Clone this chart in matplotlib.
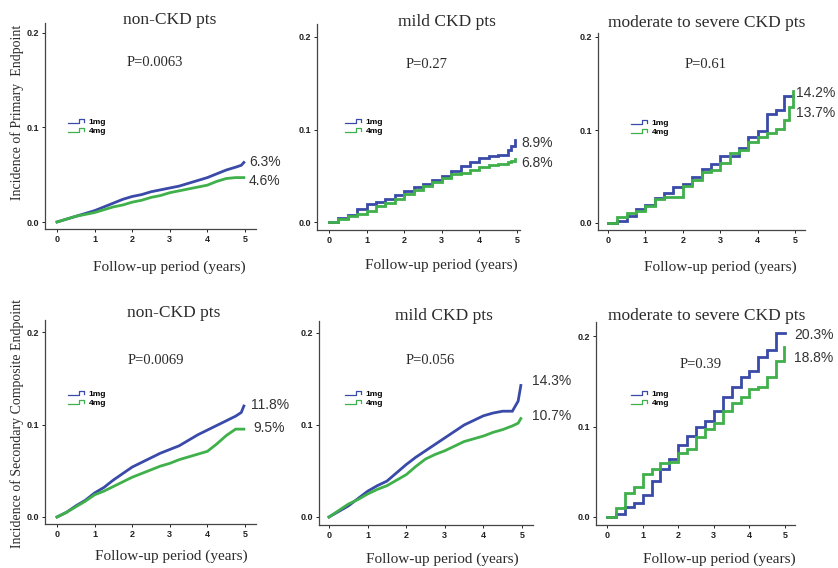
import matplotlib
matplotlib.use("Agg")
import matplotlib.pyplot as plt
from matplotlib.lines import Line2D
from matplotlib.legend_handler import HandlerBase

# ---------------- data ----------------
titles = ["non-CKD pts", "mild CKD pts", "moderate to severe CKD pts",
          "non-CKD pts", "mild CKD pts", "moderate to severe CKD pts"]
p_values = ["P=0.0063", "P=0.27", "P=0.61", "P=0.0069", "P=0.056", "P=0.39"]
end_labels_1mg = ["6.3%", "8.9%", "14.2%", "11.8%", "14.3%", "20.3%"]
end_labels_4mg = ["4.6%", "6.8%", "13.7%", "9.5%", "10.7%", "18.8%"]
series_names = ["1mg", "4mg"]
ylabels = ["Incidence of Primary  Endpoint", "Incidence of Secondary Composite Endpoint"]
xlabel = "Follow-up period (years)"
x_ticks = [0, 1, 2, 3, 4, 5]
y_ticks = [0.0, 0.1, 0.2]
y_ticklabels = ["0.0", "0.1", "0.2"]

# top-left: non-CKD, primary
tl_t = [0, 0.25, 0.5, 0.75, 1, 1.25, 1.5, 1.75, 2, 2.25, 2.5, 2.75, 3, 3.25, 3.5, 3.75, 4, 4.25, 4.5, 4.75, 4.9, 4.97]
tl_1mg = [0, 0.003, 0.006, 0.009, 0.012, 0.016, 0.020, 0.024, 0.027, 0.029, 0.032, 0.034, 0.036, 0.038, 0.041, 0.044, 0.047, 0.051, 0.055, 0.058, 0.060, 0.063]
tl_4mg = [0, 0.003, 0.006, 0.008, 0.010, 0.013, 0.016, 0.018, 0.021, 0.023, 0.026, 0.028, 0.031, 0.033, 0.035, 0.037, 0.039, 0.043, 0.046, 0.047, 0.047, 0.047]

# top-middle: mild CKD, primary
tm_t = [0, 0.25, 0.5, 0.75, 1, 1.25, 1.5, 1.75, 2, 2.25, 2.5, 2.75, 3, 3.25, 3.5, 3.75, 4, 4.25, 4.5, 4.75, 4.85, 4.95, 4.95]
tm_1mg = [0, 0.004, 0.008, 0.014, 0.019, 0.022, 0.025, 0.029, 0.034, 0.038, 0.041, 0.045, 0.050, 0.055, 0.061, 0.065, 0.069, 0.071, 0.072, 0.078, 0.082, 0.082, 0.089]
tm_4mg = [0, 0.003, 0.006, 0.009, 0.012, 0.017, 0.021, 0.025, 0.030, 0.035, 0.039, 0.043, 0.048, 0.052, 0.053, 0.056, 0.060, 0.062, 0.063, 0.065, 0.066, 0.066, 0.068]

# top-right: moderate-severe CKD, primary
tr_t1 = [0, 0.25, 0.5, 0.75, 1, 1.25, 1.5, 1.75, 2, 2.25, 2.5, 2.75, 3, 3.25, 3.5, 3.75, 4, 4.25, 4.5, 4.7, 4.95]
tr_1mg = [0, 0.002, 0.007, 0.015, 0.019, 0.027, 0.032, 0.039, 0.042, 0.049, 0.058, 0.063, 0.072, 0.072, 0.081, 0.092, 0.099, 0.117, 0.121, 0.137, 0.137]
tr_t4 = [0, 0.25, 0.5, 0.75, 1, 1.25, 1.5, 1.75, 2, 2.25, 2.5, 2.75, 3, 3.25, 3.5, 3.75, 4, 4.25, 4.5, 4.7, 4.85, 4.95, 4.95]
tr_4mg = [0, 0.006, 0.011, 0.013, 0.018, 0.026, 0.028, 0.028, 0.040, 0.046, 0.055, 0.057, 0.065, 0.075, 0.079, 0.087, 0.092, 0.097, 0.101, 0.111, 0.125, 0.125, 0.142]

# bottom-left: non-CKD, secondary
bl_t = [0, 0.25, 0.5, 0.75, 1, 1.25, 1.5, 1.75, 2, 2.25, 2.5, 2.75, 3, 3.25, 3.5, 3.75, 4, 4.25, 4.5, 4.75, 4.9, 4.97]
bl_1mg = [0, 0.005, 0.012, 0.018, 0.026, 0.032, 0.040, 0.047, 0.054, 0.059, 0.064, 0.069, 0.073, 0.077, 0.083, 0.089, 0.094, 0.099, 0.104, 0.109, 0.113, 0.120]
bl_4mg = [0, 0.005, 0.011, 0.017, 0.024, 0.028, 0.033, 0.038, 0.043, 0.047, 0.051, 0.055, 0.058, 0.062, 0.065, 0.068, 0.071, 0.079, 0.088, 0.095, 0.095, 0.095]

# bottom-middle: mild CKD, secondary
bm_t = [0, 0.25, 0.5, 0.75, 1, 1.25, 1.5, 1.75, 2, 2.25, 2.5, 2.75, 3, 3.25, 3.5, 3.75, 4, 4.25, 4.5, 4.75, 4.9, 4.97]
bm_1mg = [0, 0.006, 0.012, 0.020, 0.028, 0.034, 0.039, 0.048, 0.057, 0.065, 0.072, 0.079, 0.086, 0.093, 0.100, 0.105, 0.110, 0.113, 0.115, 0.115, 0.126, 0.143]
bm_4mg = [0, 0.007, 0.014, 0.019, 0.025, 0.030, 0.034, 0.040, 0.046, 0.055, 0.063, 0.068, 0.072, 0.077, 0.082, 0.085, 0.088, 0.092, 0.095, 0.099, 0.102, 0.107]

# bottom-right: moderate-severe CKD, secondary
br_t1 = [0, 0.25, 0.5, 0.75, 1, 1.25, 1.5, 1.75, 2, 2.25, 2.5, 2.75, 3, 3.25, 3.5, 3.75, 4, 4.25, 4.5, 4.75, 5.0]
br_1mg = [0, 0.003, 0.011, 0.016, 0.024, 0.040, 0.053, 0.064, 0.080, 0.089, 0.100, 0.106, 0.117, 0.133, 0.144, 0.155, 0.161, 0.177, 0.184, 0.203, 0.203]
br_t4 = [0, 0.25, 0.5, 0.75, 1, 1.25, 1.5, 1.75, 2, 2.25, 2.5, 2.75, 3, 3.25, 3.5, 3.75, 4, 4.25, 4.5, 4.75, 4.97, 4.97]
br_4mg = [0, 0.010, 0.026, 0.033, 0.047, 0.053, 0.060, 0.061, 0.071, 0.075, 0.088, 0.097, 0.104, 0.117, 0.126, 0.133, 0.141, 0.144, 0.155, 0.172, 0.172, 0.188]

curves = [
    ((tl_t, tl_1mg), (tl_t, tl_4mg)),
    ((tm_t, tm_1mg), (tm_t, tm_4mg)),
    ((tr_t1, tr_1mg), (tr_t4, tr_4mg)),
    ((bl_t, bl_1mg), (bl_t, bl_4mg)),
    ((bm_t, bm_1mg), (bm_t, bm_4mg)),
    ((br_t1, br_1mg), (br_t4, br_4mg)),
]

# ---------------- layout / style ----------------
W, H = 838, 568
BLUE = "#3a4aa8"
GREEN = "#3fb04a"
TXT = "#2b2b2b"
SERIF = ["Liberation Serif", "DejaVu Serif"]
SANS = ["Liberation Sans", "DejaVu Sans"]

# pixel geometry per panel: axes left,right,top,bottom ; px of x=0, x=5 ; px of y=0, y=0.2
geom = [
    (45, 256, 23, 229, 57, 245, 222, 33),
    (317, 520, 24, 230, 329, 517, 222, 37),
    (598, 805, 33, 230, 608, 795, 223, 37),
    (45, 256, 320, 524, 57, 245, 517, 332),
    (319, 533, 321, 525, 329, 522, 517, 333),
    (596, 795, 322, 525, 607, 785, 517, 336),
]
drawstyles = ["default", "steps-post", "steps-post", "default", "default", "steps-post"]
title_pos = [(170, 20), (447, 22), (707, 23), (174, 313), (444, 316), (707, 316)]
p_pos = [(155, 63), (427, 65), (706, 65), (156, 361), (430, 361), (701, 364)]
xlabel_pos = [(169, 267), (441, 265), (720, 267), (171, 556), (442, 559), (719, 559)]
lbl1_pos = [(249, 162), (521, 143), (796, 93), (251, 405), (532, 381), (794, 335)]
lbl4_pos = [(249, 181), (521, 163), (796, 113), (253, 428), (532, 416), (794, 358)]
legend_pos = [(68, 118), (345, 118), (631, 119), (68, 390), (345, 390), (631, 390)]
ylabel_pos = [(17, 112), (17, 424)]


def fx(px):
    return px / W


def fy(py):
    return 1 - py / H


class HandlerStep(HandlerBase):
    def create_artists(self, legend, orig_handle, xdescent, ydescent, width, height, fontsize, trans):
        x0 = -xdescent
        ylo, yhi = -ydescent + height * 0.15, -ydescent + height * 0.85
        xs = [x0, x0 + 0.55 * width, x0 + 0.55 * width, x0 + 0.85 * width, x0 + 0.85 * width]
        ys = [ylo, ylo, yhi, yhi, ylo + 0.2 * height]
        ln = Line2D(xs, ys, color=orig_handle.get_color(), lw=0.9, transform=trans)
        return [ln]


fig = plt.figure(figsize=(W / 100, H / 100), dpi=100)

for i in range(6):
    L, R, T, B, x0p, x5p, y0p, y2p = geom[i]
    ax = fig.add_axes([fx(L), fy(B), (R - L) / W, (B - T) / H])
    sx = (x5p - x0p) / 5.0
    sy = (y0p - y2p) / 0.2
    ax.set_xlim((L - x0p) / sx, (R - x0p) / sx)
    ax.set_ylim((y0p - B) / sy, (y0p - T) / sy)
    (t1, v1), (t4, v4) = curves[i]
    l1, = ax.plot(t1, v1, color=BLUE, lw=2.0, drawstyle=drawstyles[i], solid_joinstyle="miter")
    l4, = ax.plot(t4, v4, color=GREEN, lw=2.0, drawstyle=drawstyles[i], solid_joinstyle="miter")
    for s in ["top", "right"]:
        ax.spines[s].set_visible(False)
    for s in ["left", "bottom"]:
        ax.spines[s].set_color("#444444")
        ax.spines[s].set_linewidth(0.9)
    ax.set_xticks(x_ticks)
    ax.set_xticklabels([str(v) for v in x_ticks], fontsize=6.5, fontweight="bold", family=SANS)
    ax.set_yticks(y_ticks)
    ax.set_yticklabels(y_ticklabels, fontsize=6.5, fontweight="bold", family=SANS)
    ax.tick_params(length=2.5, width=0.7, pad=1.5, colors="#222222")

    lpx, lpy = legend_pos[i]
    ax.legend([l1, l4], series_names, loc="upper left",
              bbox_to_anchor=((lpx - L) / (R - L), (B - lpy) / (B - T)),
              frameon=False, borderpad=0, borderaxespad=0, handlelength=2.3,
              handletextpad=0.2, labelspacing=0.2,
              prop={"family": SANS, "weight": "bold", "size": 6},
              handler_map={Line2D: HandlerStep()})

    tx, ty = title_pos[i]
    fig.text(fx(tx), fy(ty), titles[i], ha="center", va="center", family=SERIF, fontsize=12.5, color=TXT)
    px_, py_ = p_pos[i]
    fig.text(fx(px_), fy(py_), p_values[i], ha="center", va="center", family=SERIF, fontsize=10.5, color=TXT)
    xx, xy = xlabel_pos[i]
    fig.text(fx(xx), fy(xy), xlabel, ha="center", va="center", family=SERIF, fontsize=11, color=TXT)
    ax1, ay1 = lbl1_pos[i]
    fig.text(fx(ax1), fy(ay1), end_labels_1mg[i], ha="left", va="center", family=SANS, fontsize=10, color="#333333")
    ax4, ay4 = lbl4_pos[i]
    fig.text(fx(ax4), fy(ay4), end_labels_4mg[i], ha="left", va="center", family=SANS, fontsize=10, color="#333333")

for j in range(2):
    yx, yy = ylabel_pos[j]
    fig.text(fx(yx), fy(yy), ylabels[j], rotation=90, ha="center", va="center", family=SERIF, fontsize=10, color=TXT)

fig.savefig("out.png", dpi=100)
